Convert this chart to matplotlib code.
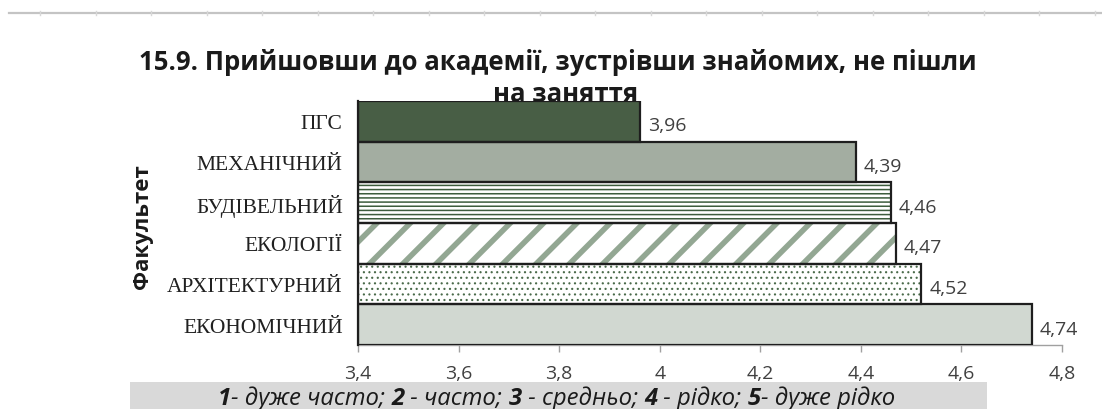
import matplotlib
matplotlib.use("Agg")
import matplotlib.pyplot as plt
import numpy as np
from matplotlib.patches import Rectangle
from matplotlib.lines import Line2D

categories = ["ПГС", "МЕХАНІЧНИЙ", "БУДІВЕЛЬНИЙ", "ЕКОЛОГІЇ", "АРХІТЕКТУРНИЙ", "ЕКОНОМІЧНИЙ"]
values = [3.96, 4.39, 4.46, 4.47, 4.52, 4.74]
xticks = [3.4, 3.6, 3.8, 4.0, 4.2, 4.4, 4.6, 4.8]
title_line1 = "15.9. Прийшовши до академії, зустрівши знайомих, не пішли"
title_line2 = "на заняття"
ylabel = "Факультет"
note_segments = [("1", True), ("- дуже часто; ", False), ("2", True),
                 (" - часто; ", False), ("3", True), (" - средньо; ", False),
                 ("4", True), (" - рідко; ", False), ("5", True),
                 ("- дуже рідко", False)]

# style per bar: (facecolor, hatch, hatch colour, hatch linewidth)
styles = [
    ("#485e45", None, None, 1.0),
    ("#a3ada1", None, None, 1.0),
    ("white", "----", "#3d5c3d", 1.1),
    ("white", "/", "#93a793", 4.0),
    ("white", "...", "#4a6a4a", 0.8),
    ("#d1d8d1", None, None, 1.0),
]

W, H = 1102, 410
fig = plt.figure(figsize=(W / 100, H / 100), dpi=100)
ax = fig.add_axes([358 / W, 1 - 346 / H, (1062 - 358) / W, (346 - 102) / H])
ax.set_zorder(1)

xmin = 3.4
ypos = np.arange(len(categories))
for i, (v, (fc, hatch, hc, hlw)) in enumerate(zip(values, styles)):
    if hatch:
        with plt.rc_context({"hatch.linewidth": hlw}):
            ax.barh(ypos[i], v - xmin, left=xmin, height=1.0, color=fc,
                    edgecolor=hc, hatch=hatch, linewidth=0, zorder=2)
    else:
        ax.barh(ypos[i], v - xmin, left=xmin, height=1.0, color=fc,
                linewidth=0, zorder=2)
    ax.barh(ypos[i], v - xmin, left=xmin, height=1.0, fill=False,
            edgecolor="#1e1e1e", linewidth=1.6, zorder=3)
    ax.text(v + 0.016, ypos[i] + 0.1, f"{v:.2f}".replace(".", ","),
            ha="left", va="center", fontsize=14, color="#404040",
            family="Open Sans")

ax.set_xlim(3.4, 4.8)
ax.set_ylim(len(categories) - 0.5, -0.5)
ax.set_xticks(xticks)
ax.set_xticklabels([f"{t:g}".replace(".", ",") for t in xticks])
ax.set_yticks(ypos)
ax.set_yticklabels(categories)
ax.tick_params(axis="y", length=0, pad=11, labelsize=15.5, labelcolor="#202020")
ax.tick_params(axis="x", length=5, width=1, color="#a0a0a0", pad=9,
               direction="out", labelsize=14, labelcolor="#404040")
for lab in ax.get_xticklabels():
    lab.set_family("Open Sans")
for lab in ax.get_yticklabels():
    lab.set_family("Liberation Serif")
for s in ["top", "right"]:
    ax.spines[s].set_visible(False)
ax.spines["bottom"].set_color("#a0a0a0")
ax.spines["bottom"].set_linewidth(1)
ax.spines["left"].set_color("#1e1e1e")
ax.spines["left"].set_linewidth(1.6)
ax.spines["left"].set_zorder(4)

fig.text(143 / W, 1 - 227 / H, ylabel, rotation=90, ha="center", va="center",
         fontsize=16, fontweight="bold", family="Open Sans", color="#1a1a1a")

fig.text(558 / W, 1 - 62 / H, title_line1, ha="center", va="center",
         fontsize=18.5, fontweight="bold", family="Open Sans",
         color="#1a1a1a", zorder=0)
fig.text(566 / W, 1 - 95 / H, title_line2, ha="center", va="center",
         fontsize=18.5, fontweight="bold", family="Open Sans",
         color="#1a1a1a", zorder=0)

# note box
fig.patches.append(Rectangle((130 / W, 0), (987 - 130) / W, (410 - 383) / H,
                             transform=fig.transFigure, facecolor="#d9d9d9",
                             edgecolor="none", zorder=0))
note_texts = []
for seg, bold in note_segments:
    note_texts.append(fig.text(218 / W, 1 - 405 / H, seg, fontsize=17.2,
                               style="italic", family="Open Sans",
                               color="#1a1a1a",
                               fontweight="bold" if bold else "normal",
                               va="baseline", ha="left"))

# chain note segments horizontally using renderer measurements
fig.canvas.draw()
renderer = fig.canvas.get_renderer()
x0, y0 = note_texts[0].get_position()
cur = x0
for t in note_texts:
    t.set_position((cur, y0))
    bb = t.get_window_extent(renderer)
    cur = cur + bb.width / W

# top ruler line
fig.lines.append(Line2D([9 / W, 1], [1 - 14 / H, 1 - 14 / H],
                        transform=fig.transFigure, color="#c4c4c4", lw=1.6))
for xt in np.arange(40, W, 55.5):
    fig.lines.append(Line2D([xt / W, xt / W], [1 - 12 / H, 1 - 16 / H],
                            transform=fig.transFigure, color="#d8d8d8", lw=1))

fig.savefig("out.png", dpi=100)
